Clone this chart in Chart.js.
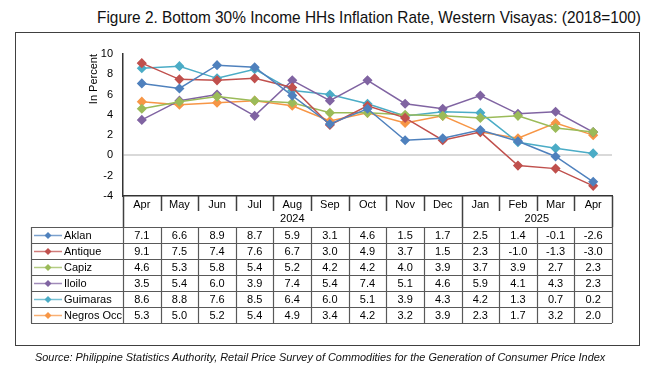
<!DOCTYPE html>
<html>
<head>
<meta charset="utf-8">
<script src="https://cdn.jsdelivr.net/npm/chart.js@4/dist/chart.umd.min.js"></script>
<style>
  body { margin: 0; width: 666px; height: 370px; background: #fff; position: relative; overflow: hidden; font-family: "Liberation Sans", Arial, sans-serif; }
  #title { position: absolute; left: 97px; top: 8px; font-family: "Liberation Sans Narrow", "Arial Narrow", "Liberation Sans", sans-serif; font-size: 17px; color: #111; white-space: nowrap; transform-origin: 0 0; }
  #frame { position: absolute; left: 15px; top: 32px; width: 625px; height: 314px; border: 1.5px solid #404040; box-sizing: border-box; }
  #chart { position: absolute; left: 0; top: 0; }
  #source { position: absolute; left: 35px; top: 351px; font-style: italic; font-size: 10.9px; color: #111; white-space: nowrap; }
</style>
</head>
<body>
<div id="title">Figure 2. Bottom 30% Income HHs Inflation Rate, Western Visayas: (2018=100)</div>
<div id="frame"></div>
<canvas id="chart" width="666" height="370"></canvas>
<div id="source">Source: Philippine Statistics Authority, Retail Price Survey of Commodities for the Generation of Consumer Price Index</div>
<script>
// months along the axis, grouped by year underneath
const months = ['Apr', 'May', 'Jun', 'Jul', 'Aug', 'Sep', 'Oct', 'Nov', 'Dec', 'Jan', 'Feb', 'Mar', 'Apr'];
const years = ['2024', '2025'];
const yearSpans = [9, 4];

const provinces = ['Aklan', 'Antique', 'Capiz', 'Iloilo', 'Guimaras', 'Negros Occ'];
const colors = ['#4F81BD', '#C0504D', '#9BBB59', '#8064A2', '#4BACC6', '#F79646'];

const aklan    = [7.1, 6.6, 8.9, 8.7, 5.9, 3.1, 4.6, 1.5, 1.7, 2.5, 1.4, -0.1, -2.6];
const antique  = [9.1, 7.5, 7.4, 7.6, 6.7, 3.0, 4.9, 3.7, 1.5, 2.3, -1.0, -1.3, -3.0];
const capiz    = [4.6, 5.3, 5.8, 5.4, 5.2, 4.2, 4.2, 4.0, 3.9, 3.7, 3.9, 2.7, 2.3];
const iloilo   = [3.5, 5.4, 6.0, 3.9, 7.4, 5.4, 7.4, 5.1, 4.6, 5.9, 4.1, 4.3, 2.3];
const guimaras = [8.6, 8.8, 7.6, 8.5, 6.4, 6.0, 5.1, 3.9, 4.3, 4.2, 1.3, 0.7, 0.2];
const negros   = [5.3, 5.0, 5.2, 5.4, 4.9, 3.4, 4.2, 3.2, 3.9, 2.3, 1.7, 3.2, 2.0];

const series = [aklan, antique, capiz, iloilo, guimaras, negros];

const yTicks = { min: -4, max: 10, step: 2 };

const FONT = '11px "Liberation Sans", Arial, sans-serif';

// squeeze the title into the narrow width of the original
const titleEl = document.getElementById('title');
const tw = titleEl.getBoundingClientRect().width;
if (tw > 544) titleEl.style.transform = 'scaleX(' + (544 / tw) + ')';

function diamond(ctx, x, y, r, color) {
  ctx.beginPath();
  ctx.moveTo(x, y - r);
  ctx.lineTo(x + r, y);
  ctx.lineTo(x, y + r);
  ctx.lineTo(x - r, y);
  ctx.closePath();
  ctx.fillStyle = color;
  ctx.fill();
}

// data table under the plot, columns follow the x scale
const tablePlugin = {
  id: 'dataTable',
  afterDraw(chart) {
    const ctx = chart.ctx;
    const area = chart.chartArea;
    const xs = chart.scales.x;
    const n = months.length;
    const w = (area.right - area.left) / n;
    const edge = i => area.left + i * w;
    const top = area.bottom;
    const rowTop = top + 31;
    const rowH = 16;
    const legendLeft = 31;

    ctx.save();
    ctx.font = FONT;
    ctx.fillStyle = '#000';
    ctx.textAlign = 'center';
    ctx.textBaseline = 'middle';

    // month labels
    months.forEach((m, i) => ctx.fillText(m, xs.getPixelForTick(i), top + 9));

    // year labels
    let start = 0;
    const yearEdges = [0];
    years.forEach((yr, k) => {
      const end = start + yearSpans[k];
      ctx.fillText(yr, (edge(start) + edge(end)) / 2, top + 23);
      yearEdges.push(end);
      start = end;
    });

    ctx.strokeStyle = '#404040';
    ctx.lineWidth = 1.5;
    // month separators
    for (let i = 1; i < n; i++) {
      if (yearEdges.includes(i)) continue;
      ctx.beginPath();
      ctx.moveTo(Math.round(edge(i)) + 0.5, top);
      ctx.lineTo(Math.round(edge(i)) + 0.5, top + 15);
      ctx.stroke();
    }
    // year separators
    yearEdges.forEach(i => {
      ctx.beginPath();
      ctx.moveTo(Math.round(edge(i)) + 0.5, top);
      ctx.lineTo(Math.round(edge(i)) + 0.5, rowTop);
      ctx.stroke();
    });

    // grid of the value rows
    ctx.strokeStyle = '#595959';
    ctx.lineWidth = 1.2;
    for (let r = 0; r <= series.length; r++) {
      const y = Math.round(rowTop + r * rowH) + 0.5;
      ctx.beginPath();
      ctx.moveTo(legendLeft, y);
      ctx.lineTo(area.right, y);
      ctx.stroke();
    }
    const bottom = rowTop + series.length * rowH;
    [legendLeft].concat(months.map((_, i) => edge(i)), [edge(n)]).forEach(x => {
      ctx.beginPath();
      ctx.moveTo(Math.round(x) + 0.5, rowTop);
      ctx.lineTo(Math.round(x) + 0.5, bottom);
      ctx.stroke();
    });

    // rows: legend key, name, values
    series.forEach((vals, r) => {
      const cy = rowTop + r * rowH + rowH / 2 + 0.5;
      ctx.strokeStyle = colors[r];
      ctx.globalAlpha = 0.75;
      ctx.lineWidth = 1.5;
      ctx.beginPath();
      ctx.moveTo(34, cy);
      ctx.lineTo(62, cy);
      ctx.stroke();
      ctx.globalAlpha = 1;
      diamond(ctx, 48, cy, 3.5, colors[r]);

      ctx.fillStyle = '#000';
      ctx.textAlign = 'left';
      ctx.fillText(provinces[r], 64, cy);
      ctx.textAlign = 'center';
      vals.forEach((v, i) => ctx.fillText(v.toFixed(1), xs.getPixelForTick(i), cy));
    });
    ctx.restore();
  }
};

new Chart(document.getElementById('chart'), {
  type: 'line',
  data: {
    labels: months,
    datasets: provinces.map((p, k) => ({
      label: p,
      data: series[k],
      borderColor: colors[k],
      backgroundColor: colors[k],
      borderWidth: 1.5,
      pointStyle: 'rectRot',
      pointRadius: 4,
      pointHoverRadius: 4,
      tension: 0
    }))
  },
  options: {
    responsive: false,
    animation: false,
    layout: { padding: { left: 83, top: 54, right: 54, bottom: 174 } },
    plugins: {
      legend: { display: false },
      tooltip: { enabled: false },
      title: { display: false }
    },
    scales: {
      x: {
        offset: true,
        grid: { display: false },
        ticks: { display: false },
        border: { display: true, color: '#333', width: 1.5 },
        afterFit: s => { s.height = 0; }
      },
      y: {
        min: yTicks.min,
        max: yTicks.max,
        afterFit: s => { s.width = 40; },
        ticks: {
          stepSize: yTicks.step,
          padding: 10,
          color: '#000',
          font: { family: '"Liberation Sans", Arial, sans-serif', size: 11 }
        },
        grid: {
          drawTicks: false,
          color: c => c.tick && c.tick.value === 0 ? '#d9d9d9' : 'rgba(0,0,0,0)',
          lineWidth: 2
        },
        border: { display: true, color: '#333', width: 1.5 },
        title: {
          display: true,
          text: 'In Percent',
          align: 'end',
          color: '#000',
          padding: { top: 4, bottom: 0 },
          font: { family: '"Liberation Sans", Arial, sans-serif', size: 11 }
        }
      }
    }
  },
  plugins: [tablePlugin]
});
</script>
</body>
</html>
